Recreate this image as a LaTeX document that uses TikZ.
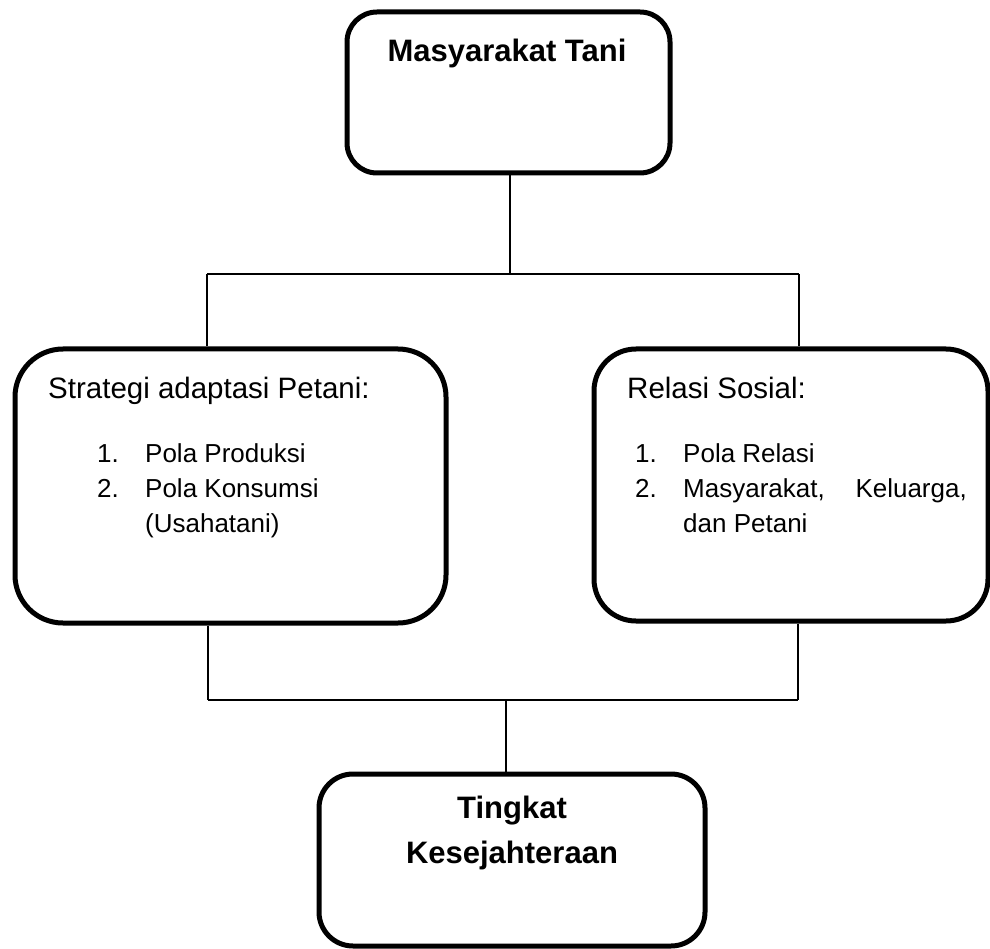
\documentclass[tikz,border=0pt]{standalone}
\usepackage{fontspec}
\setmainfont{Liberation Sans}
\begin{document}
\begin{tikzpicture}[x=1pt,y=-1pt,
  box/.style={draw=black,line width=5pt,fill=white,inner sep=0pt,rectangle},
  conn/.style={draw=black,line width=1.4pt},
  htxt/.style={inner sep=0pt,font=\fontsize{29.5}{35}\selectfont},
  txt/.style={inner sep=0pt,font=\fontsize{26}{35}\selectfont},
  btxt/.style={inner sep=0pt,font=\fontsize{31}{45}\selectfont\bfseries}]
\path[use as bounding box,fill=white] (0,0) rectangle (990,949);

% boxes
\node[box,rounded corners=30pt,minimum width=323pt,minimum height=161pt] (top) at (508.5,92.5) {};
\node[box,rounded corners=48pt,minimum width=431pt,minimum height=274pt] (left) at (230.5,486) {};
\node[box,rounded corners=42pt,minimum width=394pt,minimum height=272pt] (right) at (791,485) {};
\node[box,rounded corners=34pt,minimum width=386pt,minimum height=172pt] (bottom) at (512,860) {};

% junction coordinates
\coordinate (j1) at (510,274);
\coordinate (jl1) at (207,274);
\coordinate (jr1) at (799,274);
\coordinate (jl2) at (208,700);
\coordinate (jr2) at (798,700);
\coordinate (j2) at (506,700);

% connectors
\draw[conn] (top.south -| j1) -- (j1);
\draw[conn] (jl1) -- (jr1);
\draw[conn] (jl1) -- (left.north -| jl1);
\draw[conn] (jr1) -- (right.north -| jr1);
\draw[conn] (left.south -| jl2) -- (jl2);
\draw[conn] (right.south -| jr2) -- (jr2);
\draw[conn] (jl2) -- (jr2);
\draw[conn] (j2) -- (bottom.north -| j2);

% texts
\node[btxt,anchor=base] (ttop) at (507,62) {Masyarakat Tani};

\node[htxt,anchor=base west] (lt) at (48,398) {Strategi adaptasi Petani:};
\node[txt,anchor=base west] (ln1) at (97,462) {1.};
\node[txt,anchor=base west] (li1) at (145,462) {Pola Produksi};
\node[txt,anchor=base west] (ln2) at (97,497) {2.};
\node[txt,anchor=base west] (li2) at (145,497) {Pola Konsumsi};
\node[txt,anchor=base west] (li3) at (145,532) {(Usahatani)};

\node[htxt,anchor=base west] (rt) at (627,398) {Relasi Sosial:};
\node[txt,anchor=base west] (rn1) at (635,462) {1.};
\node[txt,anchor=base west] (ri1) at (683,462) {Pola Relasi};
\node[txt,anchor=base west] (rn2) at (635,497) {2.};
\node[txt,anchor=base west] (ri2a) at (683,497) {Masyarakat,};
\node[txt,anchor=base east] (ri2b) at (967,497) {Keluarga,};
\node[txt,anchor=base west] (ri3) at (683,532) {dan Petani};

\node[btxt,anchor=base] (tb1) at (512,818) {Tingkat};
\node[btxt,anchor=base] (tb2) at (512,863) {Kesejahteraan};
\end{tikzpicture}
\end{document}
